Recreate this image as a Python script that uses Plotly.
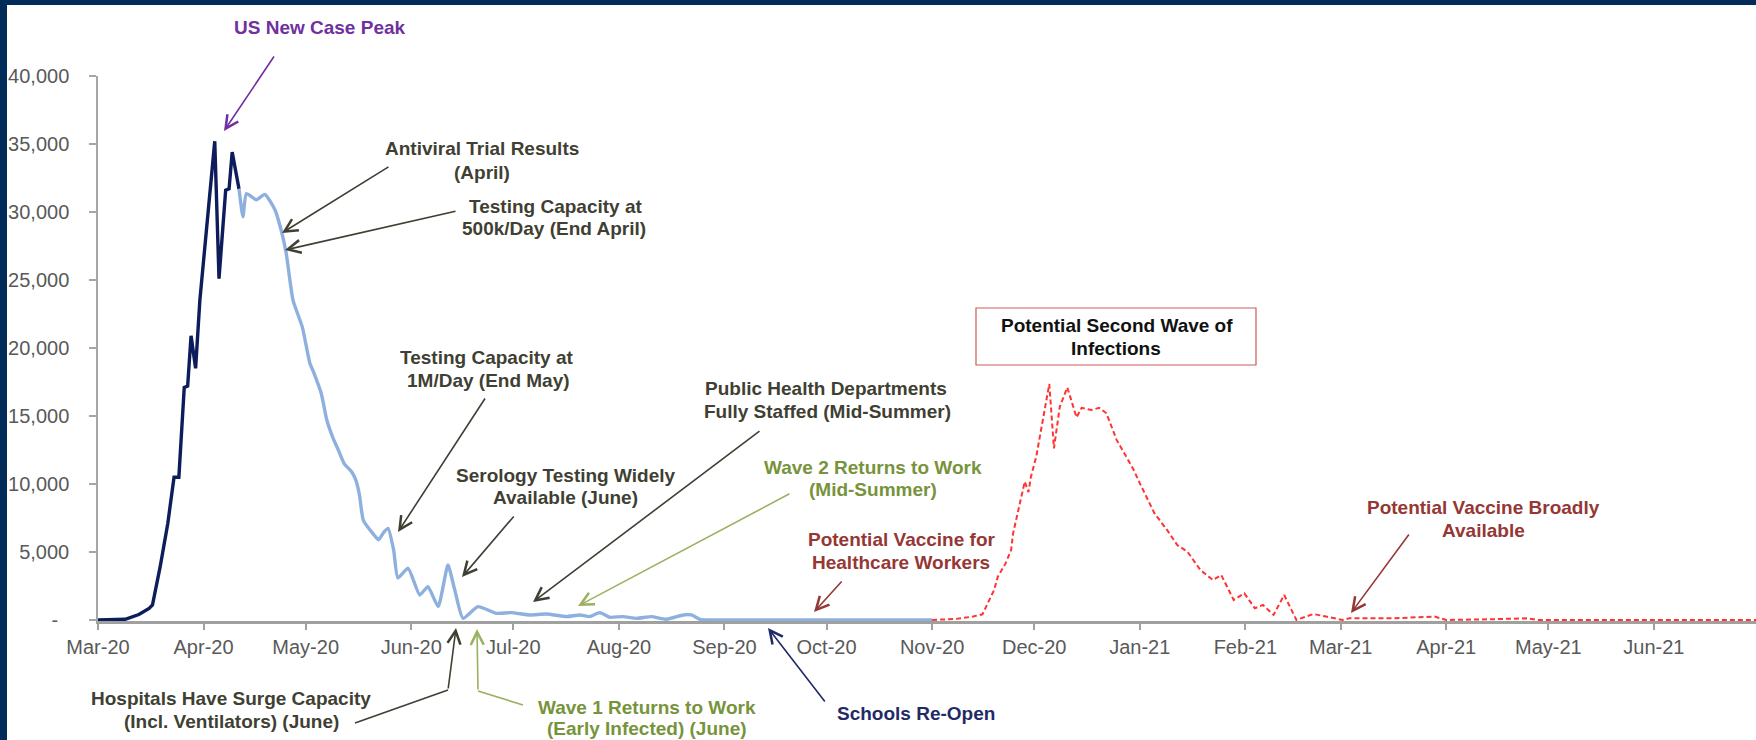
import plotly.graph_objects as go

# ---------------- data ----------------
dark_dates = ["2020-03-01", "2020-03-09", "2020-03-13", "2020-03-16", "2020-03-17",
              "2020-03-19 06:00", "2020-03-21 12:00", "2020-03-22 16:00", "2020-03-23 08:00",
              "2020-03-24 18:00", "2020-03-26 08:00", "2020-03-27 08:00", "2020-03-28 08:00",
              "2020-03-29 16:00", "2020-03-30 22:00", "2020-04-04 07:00", "2020-04-05 13:00",
              "2020-04-07 12:00", "2020-04-08 12:00", "2020-04-09 10:00", "2020-04-11 10:00"]
dark_cases = [0, 50, 400, 850, 1100,
              3900, 7100, 9500, 10500,
              10500, 17100, 17200, 20900,
              18500, 23500, 35200, 25100,
              31600, 31700, 34400, 31700]

light_dates = ["2020-04-11 10:00", "2020-04-12 14:00", "2020-04-13 14:00", "2020-04-16 12:00",
               "2020-04-19", "2020-04-22", "2020-04-23 22:00", "2020-04-25 07:00",
               "2020-04-27 07:00", "2020-04-30", "2020-05-02 05:00", "2020-05-03 07:00",
               "2020-05-05 14:00", "2020-05-07 05:00", "2020-05-08 22:00", "2020-05-10 14:00",
               "2020-05-12 07:00", "2020-05-14 12:00", "2020-05-15 17:00", "2020-05-16 19:00",
               "2020-05-17 22:00", "2020-05-20 17:00", "2020-05-22 10:00", "2020-05-24 02:00",
               "2020-05-25 05:00", "2020-05-26 20:00", "2020-05-28 02:00", "2020-05-31 02:00",
               "2020-06-03 12:00", "2020-06-05 22:00", "2020-06-08 22:00", "2020-06-11 19:00",
               "2020-06-13 19:00", "2020-06-16 05:00", "2020-06-20 14:00", "2020-06-26",
               "2020-06-30 10:00", "2020-07-05 19:00", "2020-07-10 17:00", "2020-07-16 14:00",
               "2020-07-20 12:00", "2020-07-23 10:00", "2020-07-26 10:00", "2020-07-29 07:00",
               "2020-08-02 05:00", "2020-08-06 05:00", "2020-08-10 14:00", "2020-08-15",
               "2020-08-19 22:00", "2020-08-22 07:00", "2020-08-24 19:00", "2020-08-27",
               "2020-09-10", "2020-11-01"]
light_cases = [31700, 29650, 31350, 30900,
               31300, 30150, 28550, 26950,
               23500, 21550, 18900, 18250,
               16650, 14700, 13450, 12500,
               11500, 10900, 10300, 9200,
               7350, 6370, 5900, 6500,
               6740, 5150, 3100, 3800,
               1840, 2450, 980, 4040,
               2200, 120, 980, 490,
               540, 370, 440, 250,
               370, 250, 540, 200,
               250, 120, 250, 50,
               370, 370, 50, 0,
               0, 0]

red_dates = ["2020-11-01", "2020-11-08", "2020-11-13", "2020-11-15 19:00", "2020-11-19 05:00",
             "2020-11-20 07:00", "2020-11-22 14:00", "2020-11-24 05:00", "2020-11-24 19:00",
             "2020-11-26 12:00", "2020-11-28 05:00", "2020-11-29 07:00", "2020-11-30",
             "2020-12-01 14:00", "2020-12-05 10:00", "2020-12-06 19:00", "2020-12-08 12:00",
             "2020-12-10 17:00", "2020-12-13 10:00", "2020-12-14 22:00", "2020-12-17 19:00",
             "2020-12-20 02:00", "2020-12-22 05:00", "2020-12-25 05:00", "2020-12-28 02:00",
             "2020-12-30 02:00", "2021-01-01 12:00", "2021-01-05 07:00", "2021-01-09",
             "2021-01-12", "2021-01-15", "2021-01-18 19:00", "2021-01-22 12:00",
             "2021-01-24 22:00", "2021-01-28 14:00", "2021-01-31 17:00", "2021-02-03 19:00",
             "2021-02-06 05:00", "2021-02-09 07:00", "2021-02-12 10:00", "2021-02-16",
             "2021-02-21", "2021-02-24 17:00", "2021-03-01 14:00", "2021-03-03 12:00",
             "2021-03-16", "2021-03-28 14:00", "2021-04-01", "2021-04-13 12:00",
             "2021-04-24 14:00", "2021-04-28", "2021-07-01"]
red_cases = [0, 80, 250, 420, 2200,
             3180, 4160, 5150, 6370,
             8330, 10170, 9400, 10500,
             12000, 17350, 12620, 15680,
             17100, 14900, 15600, 15440,
             15600, 15200, 13240, 12000,
             11100, 9800, 7850, 6620,
             5510, 5020, 3680, 2940,
             3310, 1470, 1960, 860,
             1100, 370, 1840, 0,
             440, 250, 0, 120,
             120, 250, 0, 50,
             120, 0, 0]

month_ticks = ["2020-03-01", "2020-04-01", "2020-05-01", "2020-06-01", "2020-07-01",
               "2020-08-01", "2020-09-01", "2020-10-01", "2020-11-01", "2020-12-01",
               "2021-01-01", "2021-02-01", "2021-03-01", "2021-04-01", "2021-05-01",
               "2021-06-01"]
month_labels = ["Mar-20", "Apr-20", "May-20", "Jun-20", "Jul-20", "Aug-20", "Sep-20",
                "Oct-20", "Nov-20", "Dec-20", "Jan-21", "Feb-21", "Mar-21", "Apr-21",
                "May-21", "Jun-21"]
y_ticks = [0, 5000, 10000, 15000, 20000, 25000, 30000, 35000, 40000]
y_labels = ["-\u00a0\u00a0", "5,000", "10,000", "15,000", "20,000", "25,000",
            "30,000", "35,000", "40,000"]

# ---------------- layout helpers ----------------
FW, FH = 1756, 740
L, R, T, B = 98, 0, 76, 119
PW, PH = FW - L - R, FH - T - B
FONT = "Liberation Sans, Arial, Helvetica, sans-serif"
NAVY_BG = "#012c59"
DARK = "#3f3f33"
OLIVE = "#77933c"
OLIVE_LIGHT = "#9bb162"
DRED = "#953735"
PURPLE = "#7030a0"
NAVY_TXT = "#1f2a66"


def xp(X):
    return (X - L) / PW


def yp(Y):
    return (FH - B - Y) / PH


fig = go.Figure()
fig.add_trace(go.Scatter(x=dark_dates, y=dark_cases, mode="lines",
                         line=dict(color="#0d1c5a", width=3.4), hoverinfo="skip"))
fig.add_trace(go.Scatter(x=light_dates, y=light_cases, mode="lines",
                         line=dict(color="#8eb0df", width=3.4, shape="spline",
                                   smoothing=0.5), hoverinfo="skip"))
fig.add_trace(go.Scatter(x=red_dates, y=red_cases, mode="lines",
                         line=dict(color="#ff3333", width=2, dash="5px,3px"),
                         hoverinfo="skip"))

annotations = []


def arrow(head, tail, color, width=1.6):
    hx, hy = head
    tx, ty = tail
    annotations.append(dict(x=xp(hx), y=yp(hy), xref="paper", yref="paper", text="",
                            showarrow=True, ax=tx - hx, ay=ty - hy,
                            axref="pixel", ayref="pixel", arrowhead=5, arrowsize=1.6,
                            arrowwidth=width, arrowcolor=color, standoff=0,
                            startstandoff=0, font=dict(size=1)))


def label(lines, color, size=19):
    for text, cx, cy in lines:
        annotations.append(dict(x=xp(cx), y=yp(cy), xref="paper", yref="paper",
                                text="<b>" + text + "</b>", showarrow=False,
                                xanchor="center", yanchor="middle", align="center",
                                font=dict(family=FONT, size=size, color=color)))


label([("US New Case Peak", 320, 27)], PURPLE)
arrow((224, 131), (275, 55), PURPLE)
label([("Antiviral Trial Results", 482, 149), ("(April)", 482, 172)], DARK)
arrow((282, 233), (390, 166), DARK)
label([("Testing Capacity at", 555, 206), ("500k/Day (End April)", 554, 229)], DARK)
arrow((285, 250), (457, 211), DARK)
label([("Testing Capacity at", 486, 357), ("1M/Day (End May)", 488, 380)], DARK)
arrow((398, 532), (486, 397), DARK)
label([("Serology Testing Widely", 565, 475), ("Available (June)", 565, 498)], DARK)
arrow((462, 577), (515, 515), DARK)
label([("Public Health Departments", 826, 388),
       ("Fully Staffed (Mid-Summer)", 827, 411)], DARK)
arrow((533, 602), (761, 430), DARK)
label([("Wave 2 Returns to Work", 873, 467), ("(Mid-Summer)", 873, 490)], OLIVE)
arrow((578, 606), (791, 493), OLIVE_LIGHT)
label([("Potential Vaccine for", 901, 539), ("Healthcare Workers", 901, 562)], DRED)
arrow((814, 612), (843, 580), DRED)
label([("Potential Second Wave of", 1117, 325), ("Infections", 1116, 348)], "#111111")
label([("Potential Vaccine Broadly", 1483, 507), ("Available", 1483, 530)], DRED)
arrow((1351, 613), (1410, 533), DRED)
label([("Hospitals Have Surge Capacity", 231, 698),
       ("(Incl. Ventilators) (June)", 231, 721)], DARK)
arrow((456, 628), (448, 690), DARK)
label([("Wave 1 Returns to Work", 647, 707),
       ("(Early Infected) (June)", 647, 728)], OLIVE)
arrow((477, 629), (478, 691), OLIVE_LIGHT)
label([("Schools Re-Open", 916, 713)], NAVY_TXT)
arrow((768, 628), (826, 703), NAVY_TXT)

shapes = [
    # navy frame strips (left and top)
    dict(type="rect", xref="paper", yref="paper", x0=xp(0), x1=xp(7), y0=yp(FH), y1=yp(0),
         fillcolor=NAVY_BG, line=dict(width=0)),
    dict(type="rect", xref="paper", yref="paper", x0=xp(0), x1=xp(FW), y0=yp(5), y1=yp(0),
         fillcolor=NAVY_BG, line=dict(width=0)),
    # box around second wave label
    dict(type="rect", xref="paper", yref="paper", x0=xp(976), x1=xp(1256),
         y0=yp(365), y1=yp(308), fillcolor="white", line=dict(color="#cf5a5a", width=1.2),
         layer="below"),
    # elbow segments of the two bent arrows
    dict(type="line", xref="paper", yref="paper", x0=xp(355), y0=yp(723), x1=xp(448),
         y1=yp(690), line=dict(color=DARK, width=1.6)),
    dict(type="line", xref="paper", yref="paper", x0=xp(523), y0=yp(705), x1=xp(478),
         y1=yp(691), line=dict(color=OLIVE_LIGHT, width=1.6)),
]

fig.update_layout(
    width=FW, height=FH, template="none",
    margin=dict(l=L, r=R, t=T, b=B, pad=0),
    paper_bgcolor="white", plot_bgcolor="white",
    showlegend=False,
    font=dict(family=FONT, size=20, color="#595959"),
    annotations=annotations, shapes=shapes,
)
fig.update_xaxes(type="date", range=["2020-03-01", "2021-07-01"], tickmode="array",
                 tickvals=month_ticks, ticktext=month_labels, showgrid=False,
                 zeroline=False, showline=True, linecolor="#a0a0a0", linewidth=2.5,
                 ticks="outside", ticklen=6, tickwidth=2, tickcolor="#a0a0a0",
                 tickfont=dict(family=FONT, size=20, color="#595959"),
                 layer="below traces", automargin=False, fixedrange=True)
fig.update_yaxes(range=[-75, 40000], tickmode="array", tickvals=y_ticks, ticktext=y_labels,
                 showgrid=False, zeroline=False, showline=True, linecolor="#a6a6a6",
                 linewidth=1.5, ticks="outside", ticklen=7, tickwidth=1.5,
                 tickcolor="#a6a6a6", ticklabelstandoff=16,
                 tickfont=dict(family=FONT, size=20, color="#595959"),
                 layer="below traces", automargin=False, fixedrange=True)

fig.write_html(
    "out.html",
    config={"displayModeBar": False},
    post_script=("document.documentElement.style.margin='0';"
                 "document.documentElement.style.overflow='hidden';"
                 "document.body.style.margin='0';"
                 "document.body.style.overflow='hidden';"),
)
